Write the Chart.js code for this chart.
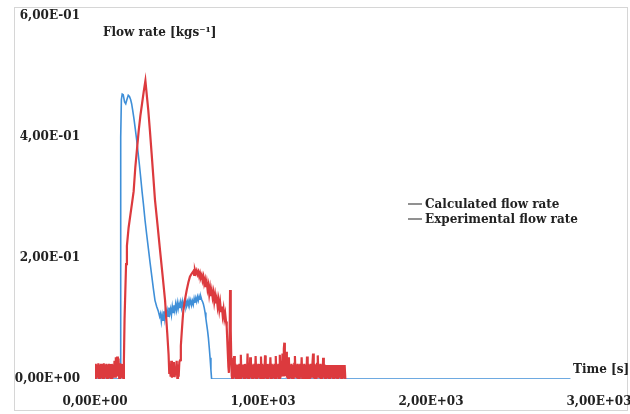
<!DOCTYPE html>
<html>
<head>
<meta charset="utf-8">
<script src="https://cdn.jsdelivr.net/npm/chart.js@4"></script>
<style>
html,body{margin:0;padding:0;background:#fff;}
#wrap{position:relative;width:630px;height:414px;}
</style>
</head>
<body>
<div id="wrap"><canvas id="c" width="630" height="414"></canvas></div>
<script>
// ---- data (time [s], flow rate [kg/s]) ----
const seriesLabels = ["Calculated flow rate", "Experimental flow rate"];
const xTicks = [0, 1000, 2000, 3000];
const yTicks = [0, 0.2, 0.4, 0.6];
const yTitle = "Flow rate [kgs\u207B\u00B9]";
const xTitle = "Time [s]";

const calculated = [
  [0,0],[150,0],[152,0.2],[154,0.4],[157,0.462],[162,0.471],[168,0.47],[176,0.458],[183,0.455],
  [190,0.462],[198,0.469],[205,0.467],[212,0.462],[218,0.455],[224,0.445],[232,0.43],[240,0.413],
  [248,0.395],[256,0.375],[264,0.355],[272,0.333],[280,0.31],[288,0.29],[298,0.262],[308,0.238],
  [318,0.215],[328,0.192],[338,0.17],[348,0.148],[357,0.13],[367,0.12],[377,0.112],[385,0.103],
  [390,0.108],[395,0.095],[400,0.106],[405,0.097],[410,0.112],[415,0.1],[420,0.115],[425,0.103],
  [430,0.113],[435,0.104],[440,0.118],[445,0.108],[450,0.116],[455,0.106],[460,0.12],[465,0.11],
  [470,0.122],[475,0.113],[480,0.124],[485,0.114],[490,0.126],[495,0.116],[500,0.125],[505,0.117],
  [510,0.127],[515,0.118],[520,0.128],[525,0.119],[530,0.126],[535,0.12],[540,0.13],[545,0.121],
  [550,0.128],[555,0.122],[560,0.131],[565,0.124],[570,0.13],[575,0.122],[580,0.129],[585,0.123],
  [590,0.133],[595,0.126],[600,0.134],[605,0.128],[610,0.136],[615,0.13],[620,0.137],[625,0.132],
  [630,0.136],[635,0.131],[640,0.128],[645,0.124],[650,0.118],[655,0.11],[660,0.1],[665,0.09],
  [670,0.08],[675,0.068],[680,0.052],[685,0.035],[690,0.015],[694,0],[2830,0]
];

const experimental = [
  [0,0.002],[4,0.025],[8,0.001],[12,0.024],[16,0.002],[20,0.026],[24,0.001],[28,0.024],[32,0.002],
  [36,0.025],[40,0.001],[44,0.024],[48,0.002],[52,0.026],[56,0.001],[60,0.024],[64,0.002],[68,0.025],
  [72,0.001],[76,0.024],[80,0.002],[84,0.025],[88,0.001],[92,0.024],[96,0.002],[100,0.025],[104,0.001],
  [108,0.024],[112,0.002],[116,0.03],[120,0.004],[124,0.036],[128,0.006],[132,0.037],[136,0.004],
  [140,0.034],[144,0.002],[148,0.026],[152,0.001],[156,0.025],[160,0.002],[164,0.024],[168,0.002],
  [172,0.03],[176,0.1],[180,0.14],[185,0.19],[190,0.22],[200,0.25],[210,0.27],[220,0.29],[230,0.31],
  [240,0.35],[250,0.38],[260,0.41],[270,0.435],[280,0.455],[290,0.475],[300,0.493],[308,0.47],
  [317,0.445],[327,0.41],[337,0.373],[347,0.335],[357,0.296],[372,0.255],[387,0.213],[402,0.172],
  [417,0.13],[430,0.076],[438,0.04],[442,0.01],
  [446,0.025],[450,0.004],[454,0.03],[458,0.002],[462,0.022],[466,0.005],[470,0.028],[474,0.003],
  [478,0.02],[482,0.006],[486,0.03],[490,0.002],[494,0.024],[498,0.004],[502,0.028],
  [506,0.031],[511,0.055],[516,0.076],[521,0.096],[526,0.114],[536,0.132],[546,0.147],[556,0.16],
  [565,0.169],[575,0.174],[585,0.178],[590,0.172],[595,0.18],[600,0.175],[605,0.179],[610,0.173],
  [615,0.177],[620,0.17],[625,0.175],[630,0.168],[635,0.172],[640,0.163],[645,0.169],[650,0.158],
  [655,0.164],[660,0.152],[665,0.16],[670,0.148],[675,0.155],[680,0.14],[685,0.15],[690,0.137],
  [695,0.146],[700,0.135],[705,0.143],[710,0.128],[715,0.138],[720,0.125],[725,0.133],[730,0.12],
  [735,0.13],[740,0.115],[745,0.126],[750,0.112],[755,0.12],[760,0.105],[765,0.115],[770,0.1],
  [775,0.108],[780,0.095],[784,0.086],[788,0.06],[791,0.04],[794,0.02],[797,0.01],[800,0.03],
  [804,0.147],[808,0.08],[811,0.035],[814,0.005],
  [816,0.002],[820,0.024],[824,0.001],[828,0.038],[832,0.002],[836,0.025],[840,0.001],[844,0.023],[848,0.002],[852,0.024],
  [856,0],[860,0.025],[864,0.002],[868,0.04],[872,0.001],[876,0.024],[880,0.002],[884,0.023],[888,0],[892,0.025],
  [896,0.002],[900,0.024],[904,0.001],[908,0.042],[912,0.002],[916,0.024],[920,0.001],[924,0.036],[928,0.002],[932,0.025],
  [936,0],[940,0.023],[944,0.002],[948,0.025],[952,0.001],[956,0.038],[960,0.002],[964,0.024],[968,0.001],[972,0.025],
  [976,0.002],[980,0.024],[984,0],[988,0.037],[992,0.002],[996,0.025],[1000,0.001],[1004,0.023],[1008,0.002],[1012,0.039],
  [1016,0.001],[1020,0.024],[1024,0.002],[1028,0.025],[1032,0],[1036,0.024],[1040,0.002],[1044,0.036],[1048,0.001],[1052,0.025],
  [1056,0.002],[1060,0.023],[1064,0.001],[1068,0.025],[1072,0.002],[1076,0.038],[1080,0],[1084,0.024],[1088,0.002],[1092,0.025],
  [1096,0.001],[1100,0.04],[1104,0.002],[1108,0.03],[1112,0.004],[1116,0.042],[1120,0.006],[1124,0.05],[1127,0.06],[1130,0.04],
  [1134,0.005],[1138,0.045],[1142,0.002],[1146,0.026],[1150,0.001],
  [1154,0.036],[1158,0.002],[1162,0.024],[1166,0.001],[1170,0.025],[1174,0.002],[1178,0.023],[1182,0],[1186,0.025],[1190,0.038],
  [1194,0.002],[1198,0.024],[1202,0.001],[1206,0.025],[1210,0.002],[1214,0.024],[1218,0],[1222,0.025],[1226,0.002],[1230,0.036],
  [1234,0.001],[1238,0.024],[1242,0.002],[1246,0.025],[1250,0.001],[1254,0.023],[1258,0.002],[1262,0.037],[1266,0],[1270,0.025],
  [1274,0.002],[1278,0.024],[1282,0.001],[1286,0.025],[1290,0.002],[1294,0.024],[1298,0.042],[1302,0.001],[1306,0.025],[1310,0.002],
  [1314,0.024],[1318,0],[1322,0.025],[1326,0.039],[1330,0.002],[1334,0.024],[1338,0.001],[1342,0.025],[1346,0.002],[1350,0.024],
  [1354,0.001],[1358,0.035],[1362,0.002],[1366,0.024],[1370,0.001],[1374,0.023],[1378,0.002],[1382,0.023],[1386,0.001],[1390,0.023],
  [1394,0.002],[1398,0.023],[1402,0.001],[1406,0.023],[1410,0.002],[1414,0.023],[1418,0.001],[1422,0.023],[1426,0.002],[1430,0.023],
  [1434,0.001],[1438,0.023],[1442,0.002],[1446,0.023],[1450,0.001],[1454,0.023],[1458,0.002],[1462,0.023],[1466,0.001],[1470,0.023],
  [1474,0.002],[1478,0.023],[1482,0.001],[1486,0.023],[1488,0.023],[1490,0]
];

// ---- helpers ----
function sci(v){
  const s = Number(v).toExponential(2);          // e.g. "6.00e-1"
  const parts = s.split("e");
  const mant = parts[0].replace(".", ",");
  let exp = parseInt(parts[1], 10);
  const sign = exp < 0 ? "-" : "+";
  exp = Math.abs(exp);
  return mant + "E" + sign + (exp < 10 ? "0" + exp : "" + exp);
}
const FONT = "bold 12px 'DejaVu Serif'";

const decor = {
  id: "decor",
  beforeDraw(chart){
    const ctx = chart.ctx;
    ctx.save();
    ctx.strokeStyle = "#d6d6d6";
    ctx.lineWidth = 1;
    ctx.strokeRect(14.5, 7.5, 613, 403);
    ctx.restore();
  },
  afterDraw(chart){
    const ctx = chart.ctx;
    ctx.save();
    ctx.font = FONT;
    ctx.fillStyle = "#222";
    ctx.textBaseline = "middle";
    ctx.textAlign = "left";
    ctx.fillText(yTitle, 103, 33);
    ctx.fillText(xTitle, 573, 370);
    // legend
    const ys = [204, 219];
    chart.data.datasets.forEach((ds, i) => {
      ctx.strokeStyle = "#555";
      ctx.lineWidth = 1.3;
      ctx.beginPath();
      ctx.moveTo(408, ys[i]);
      ctx.lineTo(422, ys[i]);
      ctx.stroke();
      ctx.fillStyle = "#222";
      ctx.fillText(ds.label, 425, ys[i] + 0.5);
    });
    ctx.restore();
  }
};

new Chart(document.getElementById("c"), {
  type: "line",
  data: {
    datasets: [
      {
        label: seriesLabels[0],
        data: calculated.map(p => ({x: p[0], y: p[1]})),
        borderColor: "#3f8fd8",
        borderWidth: 1.6,
        pointRadius: 0,
        tension: 0,
        order: 1
      },
      {
        label: seriesLabels[1],
        data: experimental.map(p => ({x: p[0], y: p[1]})),
        borderColor: "#dc3a3e",
        borderWidth: 2.2,
        pointRadius: 0,
        tension: 0,
        order: 0
      }
    ]
  },
  options: {
    responsive: false,
    animation: false,
    layout: { padding: { left: 0, right: 31, top: 16, bottom: 0 } },
    plugins: { legend: { display: false }, tooltip: { enabled: false } },
    scales: {
      x: {
        type: "linear",
        min: 0, max: 3000,
        grid: { display: false, drawTicks: false },
        border: { display: false },
        afterBuildTicks(s){ s.ticks = xTicks.map(v => ({value: v})); },
        afterFit(s){ s.height = 35; s.paddingLeft = 0; s.paddingRight = 0; },
        ticks: {
          autoSkip: false, maxRotation: 0, padding: 16,
          color: "#222",
          font: { family: "'DejaVu Serif'", size: 12, weight: "bold" },
          callback: v => sci(v)
        }
      },
      y: {
        type: "linear",
        min: 0, max: 0.6,
        grid: { display: false, drawTicks: false },
        border: { display: false },
        afterBuildTicks(s){ s.ticks = yTicks.map(v => ({value: v})); },
        afterFit(s){ s.width = 95; s.paddingTop = 0; s.paddingBottom = 0; },
        ticks: {
          padding: 15,
          color: "#222",
          font: { family: "'DejaVu Serif'", size: 12, weight: "bold" },
          callback: v => sci(v)
        }
      }
    }
  },
  plugins: [decor]
});
</script>
</body>
</html>
